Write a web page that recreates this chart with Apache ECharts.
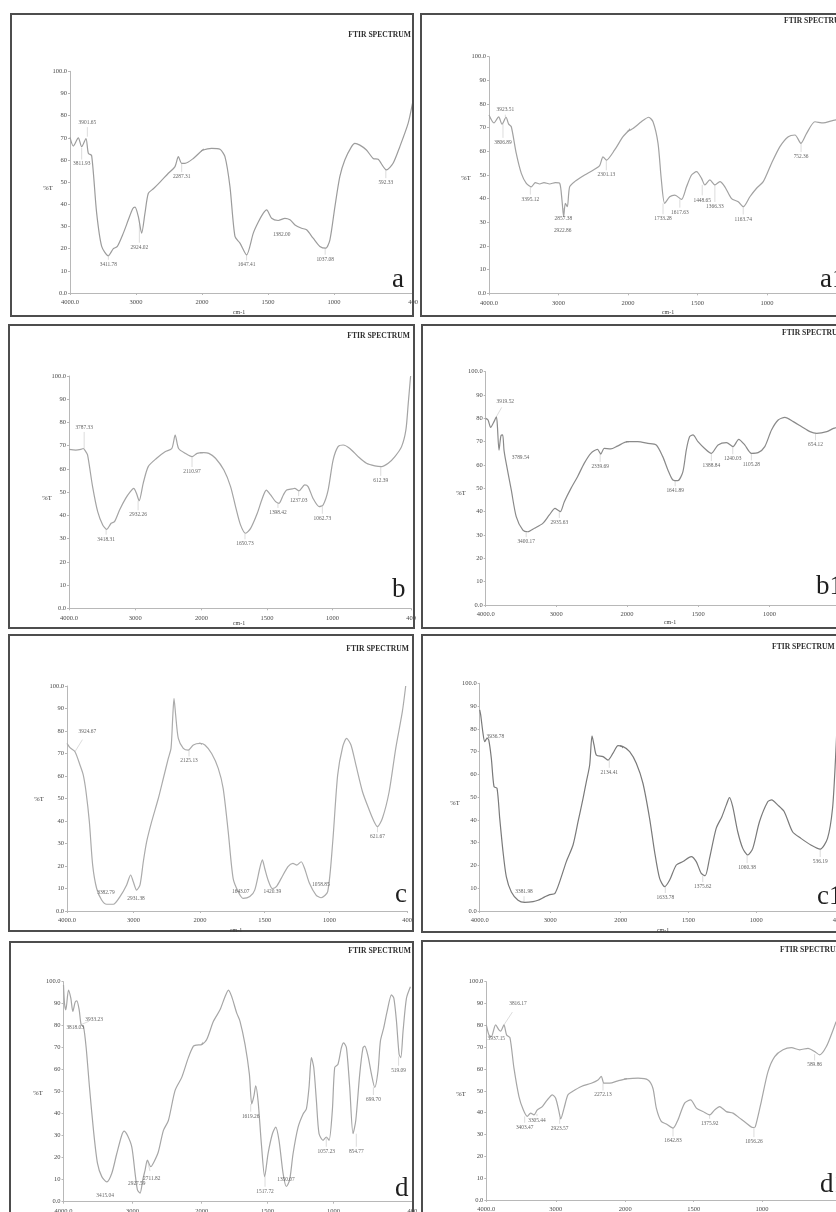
<!DOCTYPE html>
<html><head><meta charset="utf-8">
<script src="https://cdn.jsdelivr.net/npm/echarts@6/dist/echarts.min.js"></script>
<style>html,body{margin:0;padding:0;background:#fff}#c{width:836px;height:1212px}</style>
</head><body><div id="c"></div>
<script>
// ---------------- DATA (wavenumber cm-1, %T) ----------------
const yTickValues = [0,10,20,30,40,50,60,70,80,90,100];
const xTicksHigh = [4000,3000,2000];
const xTicksLow = [1500,1000,400];

const spectrumA = [[4000,70.2],[3950,66.3],[3874,70],[3823,66],[3758,69.7],[3722,63],[3672,62],[3596,36],[3520,21],[3419,16.8],[3343,20],[3283,21],[3192,27],[3116,33],[3050,38],[3015,38.7],[2965,34.5],[2914,27],[2864,36],[2813,45],[2737,47],[2636,50],[2510,54],[2409,57],[2358,61.5],[2308,58.5],[2258,58.5],[2131,60.7],[1990,64.5],[1927,65.2],[1864,64.8],[1826,61.5],[1788,48],[1750,25.5],[1712,22.5],[1662,17.2],[1611,27],[1573,32],[1535,36],[1510,37.5],[1472,33.7],[1422,32.7],[1371,33.7],[1333,33],[1295,30.7],[1245,29.2],[1207,28.5],[1157,24.7],[1106,21],[1061,20.2],[1030,24],[992,39],[955,52.5],[917,60],[866,66],[841,67.5],[803,66.7],[753,64.5],[702,60.7],[664,60.3],[601,55.5],[551,58.5],[500,66],[437,76.5],[404,85.5]];
const peaksA = [['3901.65',3737,76.8,3758,70.5],['3811.93',3823,58.2,3823,65.5],['3411.78',3419,13,3419,16.8],['2924.02',2949,20.7,2949,31],['2287.31',2308,52.5,2308,58.5],['1647.41',1662,12.7,1662,17.2],['1382.00',1396,26.2,null,null],['1037.08',1066,15.3,1066,20.2],['592.33',606,49.8,606,55.5]];

const spectrumA1 = [[4000,75.4],[3928,72],[3861,74.6],[3813,71.5],[3755,74.4],[3717,71.5],[3679,70.4],[3607,59],[3535,50.7],[3463,46.5],[3391,45],[3333,46.8],[3271,46.2],[3209,46.8],[3127,46.2],[3046,46.8],[2983,46.5],[2950,39.4],[2926,32.4],[2902,38],[2873,36.6],[2840,45],[2768,47.2],[2624,50],[2504,52],[2408,54],[2360,57.7],[2312,56.3],[2192,60.6],[2072,66.2],[1964,69.7],[1904,72.5],[1851,74.4],[1820,72.5],[1784,63.4],[1760,47.9],[1736,38],[1700,40.8],[1663,41.5],[1615,39.7],[1579,45],[1543,50],[1507,51.4],[1471,48.6],[1447,45.8],[1411,47.9],[1375,45.8],[1339,47.2],[1303,45],[1255,40],[1207,38.7],[1171,36.6],[1123,40.8],[1075,44.4],[1027,47.2],[967,55],[907,62],[847,66.2],[799,66.9],[756,63.4],[715,67.6],[655,72.5],[595,72],[535,72.9],[480,73.5]];
const peaksA1 = [['3923.51',3765,77.5,3755,74.4],['3806.89',3799,63.7,3799,71.5],['3395.12',3405,39.7,3405,45],['2857.38',2930,31.7,2930,36],['2922.86',2940,26.5,null,null],['2301.13',2312,50,2312,56.3],['1733.28',1748,31.4,1748,38],['1617.63',1627,34.2,1627,39.7],['1448.65',1466,39.4,1466,45.8],['1366.33',1375,36.6,1375,45.8],['1163.74',1171,31.3,1171,36.6],['752.36',755,57.7,755,63.4]];

const spectrumB = [[4000,68.4],[3898,68.1],[3822,68.4],[3786,68.8],[3756,67.9],[3720,66],[3644,52.4],[3567,41.6],[3491,35.9],[3430,34],[3364,36.6],[3313,37.3],[3237,42.3],[3145,47.3],[3074,50.2],[3023,51.6],[2982,49.5],[2941,46.3],[2880,53.8],[2804,61],[2677,64.6],[2550,67.4],[2448,68.8],[2397,74.6],[2346,68.8],[2244,66.7],[2143,65.3],[2066,66.7],[1982,67],[1944,66.7],[1893,64.6],[1829,59.5],[1778,52.4],[1740,43.8],[1702,35.9],[1663,32.3],[1625,34.4],[1574,40.9],[1536,47.3],[1505,50.9],[1472,48.8],[1434,45.9],[1408,45.2],[1375,48.8],[1350,50.9],[1306,51.4],[1288,51.6],[1255,50.6],[1212,53.1],[1186,52.4],[1148,47.3],[1102,43.8],[1071,44.5],[1033,50.9],[995,63.8],[957,69.6],[918,70.3],[867,68.8],[804,65.3],[740,62.4],[676,61.3],[625,61],[574,62.4],[523,65.3],[472,69.6],[439,76.8],[421,88.2],[403,100]];
const peaksB = [['3787.33',3771,77.9,3786,68.8],['3418.31',3440,29.7,3440,34],['2932.26',2957,40.2,2957,46.3],['2110.97',2143,58.8,2143,65.3],['1650.73',1668,27.7,1668,32.3],['1398.42',1416,41.2,1416,45.2],['1237.03',1258,46.3,1258,50.6],['1062.73',1077,38.7,1077,44.5],['612.39',631,55,631,61]];

const spectrumB1 = [[4000,80],[3967,79.3],[3930,76.1],[3882,78.6],[3849,80.7],[3835,77],[3812,66.4],[3784,72.6],[3760,72.9],[3741,66.4],[3718,62.1],[3638,49.3],[3568,37.9],[3474,32.1],[3404,31.4],[3310,32.9],[3192,35],[3099,38.6],[3019,41.4],[2981,40.7],[2944,40],[2887,44.3],[2793,50],[2700,55],[2606,60.7],[2512,65],[2418,66.7],[2371,64.7],[2324,67.1],[2230,66.9],[2136,68.1],[1995,70],[1925,70],[1854,69.3],[1795,68.6],[1749,63.6],[1713,57.9],[1678,53.6],[1643,53.3],[1608,57.1],[1584,66.4],[1561,72.1],[1537,72.9],[1502,70],[1455,67.1],[1408,65],[1361,68.6],[1302,69.6],[1256,67.9],[1216,71],[1174,68.6],[1127,65],[1080,65.3],[1033,67.9],[986,75],[939,79.3],[892,80.4],[833,78.6],[774,76.4],[716,74.3],[669,73.6],[598,74.3],[551,75.7],[480,77]];
const peaksB1 = [['3919.52',3723,87.4,3849,80.7],['3789.54',3507,63.3,null,null],['3400.17',3427,27.1,3427,31.4],['2935.63',2958,35.3,2958,40],['2339.69',2380,59.3,2380,64.7],['1641.89',1662,48.9,1662,53.3],['1388.84',1408,59.7,1408,65],['1240.03',1258,62.6,1258,67.9],['1105.28',1127,60,1127,65],['654.12',677,68.6,677,73.6]];

const spectrumC = [[4000,74.5],[3955,72.6],[3880,70.8],[3805,64.9],[3755,60.4],[3714,53],[3664,39.7],[3614,20.4],[3554,10],[3479,4.9],[3404,3],[3303,3],[3203,6.4],[3103,11.6],[3043,16],[3003,13],[2953,9.3],[2902,11.6],[2852,22],[2802,30.8],[2727,39.7],[2627,50],[2551,59],[2476,67.9],[2436,72.3],[2411,85.6],[2391,94.5],[2366,87.1],[2326,76.7],[2251,72.3],[2175,71.5],[2100,73.8],[2000,74.5],[1962,73.8],[1910,70],[1859,63.4],[1821,54.5],[1782,35.3],[1744,14.5],[1705,8.6],[1667,5.6],[1615,6.4],[1577,9.3],[1538,19],[1518,22.7],[1500,19],[1474,13.8],[1441,10],[1410,10.8],[1372,14.5],[1320,19.7],[1282,21.2],[1251,20.4],[1218,21.9],[1192,19],[1154,12.3],[1103,7.1],[1064,5.9],[1013,8.6],[974,30.8],[936,60.4],[897,73],[867,76.7],[833,73.8],[795,64.9],[744,53],[692,44.9],[654,39.7],[628,37.5],[590,41.2],[538,53],[487,72.3],[436,88.6],[410,100]];
const peaksC = [['3924.67',3694,79.7,3880,70.8],['3382.79',3414,8.3,null,null],['2931.38',2962,5.3,null,null],['2125.13',2165,66.7,2165,71.8],['1643.07',1685,8.6,null,null],['1420.39',1441,8.6,null,null],['1058.85',1066,11.6,null,null],['621.67',628,33,628,37.5]];

const spectrumC1 = [[4000,88.3],[3986,86.1],[3953,78],[3929,74.4],[3896,75.8],[3872,75.1],[3835,67],[3797,54.6],[3754,53.9],[3716,40.7],[3669,26],[3622,15],[3551,8.3],[3456,4.7],[3362,3.8],[3243,4.1],[3173,4.7],[3078,6.2],[3007,7.2],[2936,7.6],[2865,12.9],[2771,21.7],[2676,29],[2605,39.2],[2534,49.5],[2487,56.8],[2440,64.1],[2407,76.9],[2378,72.9],[2345,68.5],[2251,67.8],[2180,66.3],[2109,69.3],[2038,72.6],[1983,72.2],[1934,70],[1885,64.9],[1836,56.1],[1787,40.7],[1750,26],[1713,14.3],[1676,10.7],[1639,13.6],[1590,20.2],[1541,21.7],[1480,23.9],[1443,21.7],[1406,16.5],[1377,15.5],[1345,23.1],[1296,36.3],[1254,41.4],[1222,46.5],[1198,49.8],[1174,45.8],[1137,34.8],[1100,27.5],[1063,24.6],[1026,27.5],[977,39.2],[916,48],[887,48.8],[843,46.6],[794,43.6],[733,34.8],[671,31.9],[598,29],[529,27.2],[475,31.9],[438,45.1],[416,67],[400,88]];
const peaksC1 = [['3936.78',3778,76.6,3896,75.8],['3381.98',3371,8.5,3371,3.8],['2134.41',2162,60.9,2162,66.5],['1633.78',1671,5.9,1671,10.7],['1375.62',1395,10.7,1395,15.5],['1060.38',1068,19,1068,24.6],['536.19',529,21.7,529,27.2]];

const spectrumD = [[4000,98.5],[3985,90],[3966,87.2],[3928,96.2],[3894,92.5],[3865,86.5],[3831,90.7],[3807,91.3],[3773,87.2],[3745,80.5],[3711,79.7],[3672,70],[3624,52],[3566,32.4],[3508,17.4],[3446,11.4],[3373,9],[3301,12.9],[3229,21.9],[3157,30.2],[3123,32.1],[3075,30.2],[3012,24.9],[2964,12.9],[2930,5.4],[2892,3.9],[2853,9.9],[2819,14.4],[2786,18.9],[2737,15.9],[2689,18.2],[2627,22.7],[2554,32.4],[2482,36.9],[2386,50.5],[2289,56.5],[2193,65.5],[2120,70.7],[2072,71.2],[2000,71.5],[1962,73.7],[1911,82],[1861,87.2],[1823,93.2],[1797,96.2],[1772,93.2],[1734,85.7],[1709,82],[1671,71.5],[1638,58],[1620,44.4],[1603,48.2],[1590,52.7],[1572,45.9],[1547,26.4],[1522,11.4],[1496,21.9],[1463,30.9],[1438,33.9],[1413,27.9],[1382,12.9],[1357,6.9],[1332,9.9],[1306,21.9],[1268,33.9],[1230,39.9],[1205,42.2],[1185,52],[1167,65.5],[1149,61],[1129,45.9],[1109,30.9],[1078,27.9],[1053,29.4],[1033,27.9],[1008,41.4],[990,61],[965,62.5],[939,70],[922,72.2],[901,70],[876,52],[851,30.9],[830,36.9],[800,58],[775,70],[762,70.7],[737,66.2],[711,58],[686,52],[661,59.5],[643,73],[618,79],[592,86.5],[559,94],[541,92.5],[521,82],[501,67],[488,65.5],[471,77.5],[445,92.5],[415,97.7]];
const peaksD = [['3818.03',3831,79,null,null],['3933.23',3557,83,3745,80.5],['3415.04',3398,2.7,null,null],['2927.59',2940,8.3,null,null],['2711.82',2723,10.6,2786,18.9],['1619.26',1628,38.9,1628,44.4],['1517.72',1519,4.8,1519,11.4],['1350.07',1360,10.2,null,null],['1057.23',1054,23,1054,29.4],['854.77',826,23,851,30.9],['699.70',696,46.5,696,52],['519.09',505,59.8,505,66]];

const spectrumD1 = [[4000,80.2],[3962,75.6],[3928,74.8],[3866,80.2],[3818,77.9],[3794,77.4],[3746,80.2],[3708,75.6],[3660,74.4],[3602,60.4],[3530,47.4],[3468,41.3],[3410,38.3],[3362,39.8],[3314,39],[3266,41.3],[3194,42.8],[3122,45.9],[3050,48.2],[3002,46.6],[2954,40.5],[2929,37.2],[2881,42.1],[2825,48.2],[2761,49.7],[2633,52],[2489,53.5],[2393,55],[2345,56.6],[2307,53.5],[2225,53.5],[2105,54.6],[1993,55.5],[1907,55.8],[1834,55],[1798,51.2],[1773,42.1],[1737,36],[1700,34.8],[1651,32.9],[1615,36.7],[1566,44.4],[1522,45.9],[1480,42.1],[1432,40.5],[1383,39],[1346,41.3],[1310,42.8],[1261,40.5],[1212,39.8],[1163,37.5],[1114,35.2],[1066,33.2],[1049,33.5],[1005,45.1],[956,58.8],[907,65.7],[846,68.8],[785,69.8],[724,68.8],[663,69.5],[615,68],[578,66.5],[529,70.3],[480,77.9],[458,81.7]];
const peaksD1 = [['3816.17',3544,90,3746,80.2],['3937.15',3856,73.8,null,null],['3403.47',3448,33.4,3448,38.3],['3305.44',3271,36.4,3271,39.5],['2923.57',2945,32.9,2945,37.5],['2272.13',2321,48.2,2321,53.5],['1642.83',1651,27.1,1651,32.9],['1375.92',1383,35.2,1383,39],['1056.26',1059,26.8,1059,33.5],['589.86',615,61.9,590,66.8]];

// ---------------- LAYOUT / STYLE ----------------
const SERIF = '"Liberation Serif", "DejaVu Serif", serif';
const panels = [
  {name:'a',  spec:spectrumA,  peaks:peaksA,  x0:70,    x2:202,   xe:413,   yt:71.3,  yb:293,    color:'#9c9c9c', box:[11,14,402,302],  ftir:[411,35,'right'],  letter:[392,293], pct:[48,188],  cm:[239,312]},
  {name:'a1', spec:spectrumA1, peaks:peaksA1, x0:489,   x2:628,   xe:850.4, yt:56.7,  yb:293.3,  color:'#a2a2a2', box:[421,14,440,302], ftir:[784,21,'left'],   letter:[820,293], pct:[466,178], cm:[668,312]},
  {name:'b',  spec:spectrumB,  peaks:peaksB,  x0:69,    x2:201.5, xe:411,   yt:376,   yb:608.3,  color:'#a4a4a4', box:[9,325,405,303],  ftir:[410,336,'right'], letter:[392,603], pct:[47,498],  cm:[239,623]},
  {name:'b1', spec:spectrumB1, peaks:peaksB1, x0:485.7, x2:627,   xe:855,   yt:371.7, yb:605,    color:'#8a8a8a', box:[422,325,440,303],ftir:[782,333,'left'],  letter:[816,600], pct:[461,493], cm:[670,622]},
  {name:'c',  spec:spectrumC,  peaks:peaksC,  x0:67,    x2:200,   xe:407,   yt:686,   yb:911,    color:'#ababab', box:[9,635,404,296],  ftir:[409,649,'right'], letter:[395,908], pct:[39,799],  cm:[236,930]},
  {name:'c1', spec:spectrumC1, peaks:peaksC1, x0:479.7, x2:620.7, xe:837.7, yt:683.3, yb:911,    color:'#7a7a7a', box:[422,635,440,297],ftir:[772,647,'left'],  letter:[817,910], pct:[455,803], cm:[663,930]},
  {name:'d',  spec:spectrumD,  peaks:peaksD,  x0:63.5,  x2:201.7, xe:412.4, yt:981.7, yb:1201.7, color:'#a6a6a6', box:[10,942,403,300], ftir:[411,951,'right'], letter:[395,1202],pct:[38,1093], cm:[236,1222]},
  {name:'d1', spec:spectrumD1, peaks:peaksD1, x0:486.3, x2:625.3, xe:844,   yt:981.7, yb:1200,   color:'#a6a6a6', box:[422,941,440,300],ftir:[780,950,'left'],  letter:[820,1198],pct:[461,1094],cm:[668,1222]}
];

const grids = [], xAxes = [], yAxes = [], series = [], graphics = [];
const axisColor = '#b8b8b8';
const tickFont = {fontSize:6.5, color:'#4a4a4a', fontFamily:SERIF};

panels.forEach((p, pi) => {
  const gL = grids.length, gR = gL + 1;
  const h = p.yb - p.yt;
  grids.push({left:p.x0, top:p.yt, width:p.x2 - p.x0, height:h, containLabel:false, outerBoundsMode:'none'});
  grids.push({left:p.x2, top:p.yt, width:p.xe - p.x2, height:h, containLabel:false, outerBoundsMode:'none'});
  xAxes.push({gridIndex:gL, type:'value', min:2000, max:4000, inverse:true,
    axisLine:{show:true, onZero:false, lineStyle:{color:axisColor, width:1}},
    axisTick:{show:true, customValues:xTicksHigh, length:2, lineStyle:{color:axisColor}},
    axisLabel:{customValues:xTicksHigh, formatter:v => v === 4000 ? '4000.0' : String(v), margin:6, ...tickFont},
    splitLine:{show:false}});
  xAxes.push({gridIndex:gR, type:'value', min:400, max:2000, inverse:true,
    axisLine:{show:true, onZero:false, lineStyle:{color:axisColor, width:1}},
    axisTick:{show:true, customValues:xTicksLow, length:2, lineStyle:{color:axisColor}},
    axisLabel:{customValues:xTicksLow, formatter:v => String(v), margin:6, ...tickFont},
    splitLine:{show:false}});
  yAxes.push({gridIndex:gL, type:'value', min:0, max:100, interval:10,
    axisLine:{show:true, lineStyle:{color:axisColor, width:1}},
    axisTick:{show:true, length:2, lineStyle:{color:axisColor}},
    axisLabel:{formatter:v => v === 100 ? '100.0' : (v === 0 ? '0.0' : String(v)), margin:3, ...tickFont},
    splitLine:{show:false}});
  yAxes.push({gridIndex:gR, type:'value', min:0, max:100, interval:10, show:false, splitLine:{show:false}});

  [gL, gR].forEach(g => {
    series.push({type:'line', xAxisIndex:g, yAxisIndex:g, data:p.spec, symbol:'none', showSymbol:false,
      smooth:0.25, clip:true, silent:true, lineStyle:{color:p.color, width:1.2}, z:3});
  });

  // peak labels and leader lines
  const lblL = [], lblR = [];
  p.peaks.forEach(pk => {
    const [txt, wl, tl, wt, tt] = pk;
    (wl >= 2000 ? lblL : lblR).push({value:[wl, tl], name:txt});
    if (wt !== null) {
      const g = wt >= 2000 ? gL : gR;
      let start, end;
      if (Math.abs(wt - wl) > 40) {
        start = [wt, tt];
        end = [wt + (wl - wt) * 0.6, tt + (tl - tt) * 0.6];
      } else {
        const dir = tt > tl ? 1 : -1;
        start = [wl, tt];
        end = [wl, tl + dir * 2];
      }
      series.push({type:'line', xAxisIndex:g, yAxisIndex:g, data:[start, end], symbol:'none', showSymbol:false,
        silent:true, clip:false, lineStyle:{color:'#c4c4c4', width:0.6}, z:2});
    }
  });
  [[gL, lblL], [gR, lblR]].forEach(([g, arr]) => {
    if (!arr.length) return;
    series.push({type:'scatter', xAxisIndex:g, yAxisIndex:g, data:arr, symbol:'circle', symbolSize:1,
      itemStyle:{color:'rgba(0,0,0,0)'}, silent:true, clip:false, z:4,
      label:{show:true, position:'inside', formatter:'{b}', fontSize:5.4, color:'#3a3a3a', fontFamily:SERIF}});
  });

  // frame and texts
  graphics.push({type:'rect', shape:{x:p.box[0], y:p.box[1], width:p.box[2], height:p.box[3]},
    style:{fill:'none', stroke:'#4d4d4d', lineWidth:2}, z:10});
  graphics.push({type:'text', x:p.ftir[0], y:p.ftir[1], z:10,
    style:{text:'FTIR SPECTRUM', fill:'#2e2e2e', font:'bold 7.6px ' + SERIF, textAlign:p.ftir[2], align:p.ftir[2], textVerticalAlign:'middle', verticalAlign:'middle'}});
  graphics.push({type:'text', x:p.letter[0], y:p.letter[1], z:10,
    style:{text:p.name, fill:'#1e1e1e', font:'27px ' + SERIF, textAlign:'left', align:'left', textVerticalAlign:'bottom', verticalAlign:'bottom'}});
  graphics.push({type:'text', x:p.pct[0], y:p.pct[1], z:10,
    style:{text:'%T', fill:'#3a3a3a', font:'6.5px ' + SERIF, textAlign:'center', align:'center', textVerticalAlign:'middle', verticalAlign:'middle'}});
  graphics.push({type:'text', x:p.cm[0], y:p.cm[1], z:10,
    style:{text:'cm-1', fill:'#3a3a3a', font:'6px ' + SERIF, textAlign:'center', align:'center', textVerticalAlign:'middle', verticalAlign:'middle'}});
});

const chart = echarts.init(document.getElementById('c'), null, {renderer:'canvas'});
chart.setOption({
  animation:false,
  backgroundColor:'#ffffff',
  grid:grids, xAxis:xAxes, yAxis:yAxes, series:series, graphic:graphics
});
</script></body></html>
